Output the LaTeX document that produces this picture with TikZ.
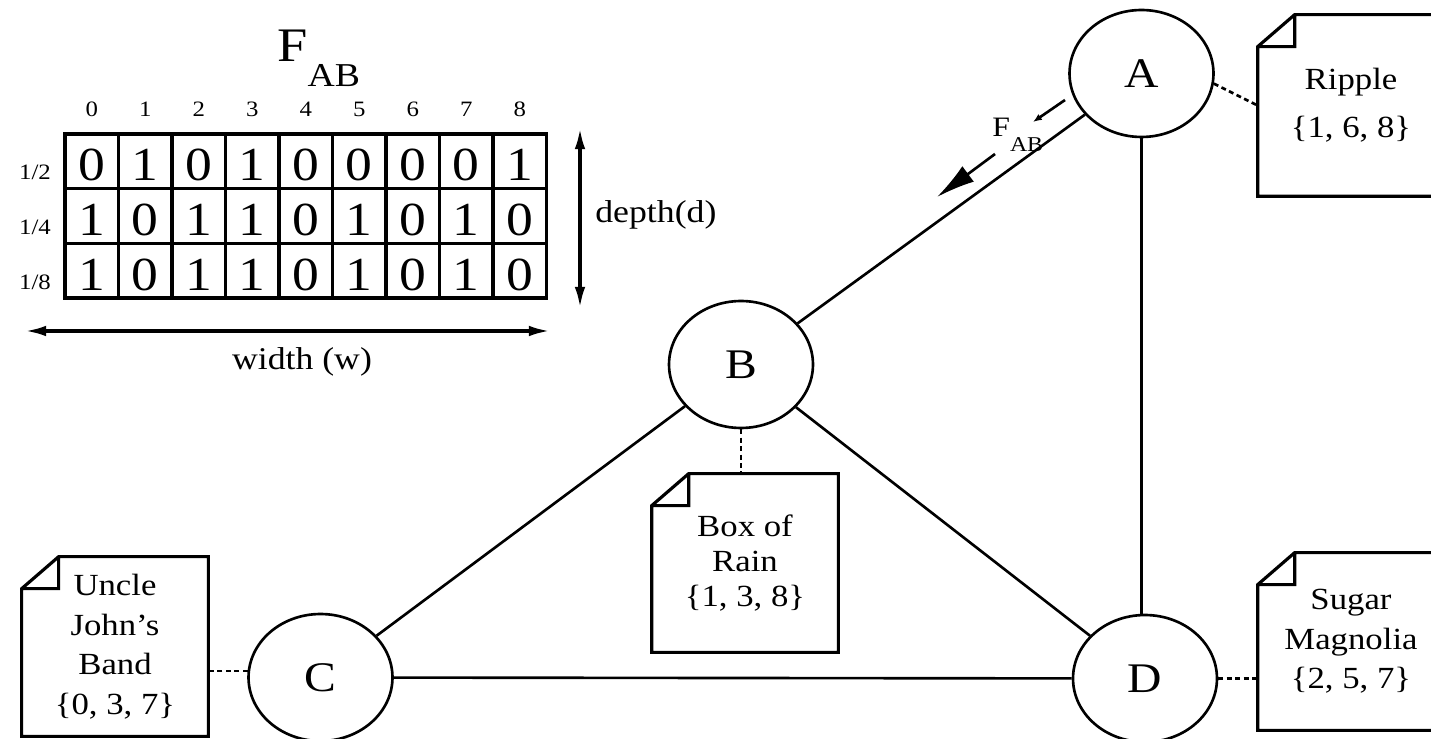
\documentclass[tikz,border=0pt]{standalone}
\usepackage{fontspec}
\setmainfont{Liberation Serif}[FakeStretch=1.13]
\usetikzlibrary{arrows.meta,positioning,shapes.geometric,calc}

\begin{document}
\begin{tikzpicture}[
    x=0.02cm, y=-0.02cm,
    every node/.style={inner sep=0pt},
    station/.style={ellipse, draw, line width=1.5pt, minimum width=2.88cm,
                    minimum height=2.54cm, font=\fontsize{24}{24}\selectfont},
    doc/.style={rectangle, minimum width=3.72cm, align=center,
                font=\fontsize{17.5}{22.5}\selectfont},
    docline/.style={line width=1.8pt, line join=miter},
    cell/.style={anchor=base, font=\fontsize{27}{27}\selectfont},
    idx/.style={anchor=base, font=\fontsize{12.5}{12.5}\selectfont},
    edge/.style={line width=1.5pt},
    tie/.style={line width=1.5pt, dash pattern=on 2.8pt off 2pt},
    dim/.style={{Latex[length=12pt,width=6pt]}-{Latex[length=12pt,width=6pt]}, line width=1.9pt},
    dimlabel/.style={font=\fontsize{18}{18}\selectfont},
  ]
  \useasboundingbox (0,0) rectangle (1431,739);
  \clip (0,0) rectangle (1431,739);

  % sketch table
  \node[anchor=base west, font=\fontsize{27.4}{27.4}\selectfont] (title) at (277,62)
    {F\raisebox{-14pt}{\fontsize{19}{19}\selectfont AB}};
  \draw[line width=2pt] (65,134) rectangle (546.5,298);
  \foreach \c in {1,...,8}
    \draw[line width=2pt] ({65+53.5*\c},134) -- ({65+53.5*\c},298);
  \foreach \r in {1,2}
    \draw[line width=2pt] (65,{134+54.67*\r}) -- (546.5,{134+54.67*\r});
  \foreach \c in {0,...,8}
    \node[idx] (col-\c) at ({65+53.5*(\c+0.5)},117) {\c};
  \foreach \p/\q [count=\r] in {1/2,1/4,1/8}
    \node[idx] (row-\r) at (35,{134+54.67*\r-9}) {\p/\q};
  \foreach \bits [count=\r] in {{0,1,0,1,0,0,0,0,1},{1,0,1,1,0,1,0,1,0},{1,0,1,1,0,1,0,1,0}}
    \foreach \b [count=\c from 0] in \bits
      \node[cell] (cell-\r-\c) at ({65+53.5*(\c+0.5)},{134+54.67*\r-8}) {\b};

  % dimensions
  \coordinate (wl) at (25,331);
  \coordinate (wr) at (550,331);
  \draw[dim] (wl) -- (wr);
  \node[dimlabel] (wlab) at (302,362) {width (w)};
  \coordinate (dt) at (580,128);
  \coordinate (db) at (580,308);
  \draw[dim] (dt) -- (db);
  \node[dimlabel, anchor=west] (dlab) at (595,215) {depth(d)};

  % stations
  \node[station] (A) at (1141.5,73.5) {A};
  \node[station] (B) at (741,364.5) {B};
  \node[station] (C) at (320.5,677.5) {C};
  \node[station] (D) at (1145,678.5) {D};

  \draw[edge] (A) -- (B);
  \draw[edge] (A) -- (A |- D.north);
  \draw[edge] (B) -- (C);
  \draw[edge] (B) -- (D);
  \draw[edge] (C) -- (D);

  % sketch sent from A to B
  \node[anchor=base west, font=\fontsize{16}{16}\selectfont] (fab) at (992,137)
    {F\raisebox{-8.5pt}{\fontsize{12}{12}\selectfont AB}};
  \coordinate (f1) at (1065,100);
  \coordinate (f2) at (1033,122);
  \coordinate (f3) at (995,154);
  \coordinate (f4) at (937,197);
  \draw[edge, -{Latex[length=5pt,width=4pt]}] (f1) -- (f2);
  \draw[edge, -{Latex[length=22pt,width=11pt]}] (f3) -- (f4);

  % song documents
  \node[doc, minimum height=3.62cm] (rip) at (1351,105.5) {Ripple\\[5pt]\{1, 6, 8\}};
  \node[doc, minimum height=3.56cm, font=\fontsize{17.5}{20}\selectfont] (rain) at (745,563)
    {Box of\\Rain\\\{1, 3, 8\}};
  \node[doc, minimum height=3.58cm] (unc) at (115,646.5) {Uncle\\John's\\Band\\\{0, 3, 7\}};
  \node[doc, minimum height=3.54cm] (sug) at (1351,641.5) {Sugar\\Magnolia\\\{2, 5, 7\}};
  \foreach \n in {rip,rain,unc,sug}
    \draw[docline] ($(\n.north west)+(37,0)$) -- (\n.north east) -- (\n.south east)
      -- (\n.south west) -- ($(\n.north west)+(0,32)$) -- cycle
      ($(\n.north west)+(37,0)$) |- ($(\n.north west)+(0,32)$);

  \draw[tie] (A.-8) -- (rip.west);
  \draw[tie] (B.south) -- (B.south |- rain.north);
  \draw[tie] (C.175) -- (C.175 -| unc.east);
  \draw[tie] (D.east) -- (D.east -| sug.west);
\end{tikzpicture}
\end{document}
